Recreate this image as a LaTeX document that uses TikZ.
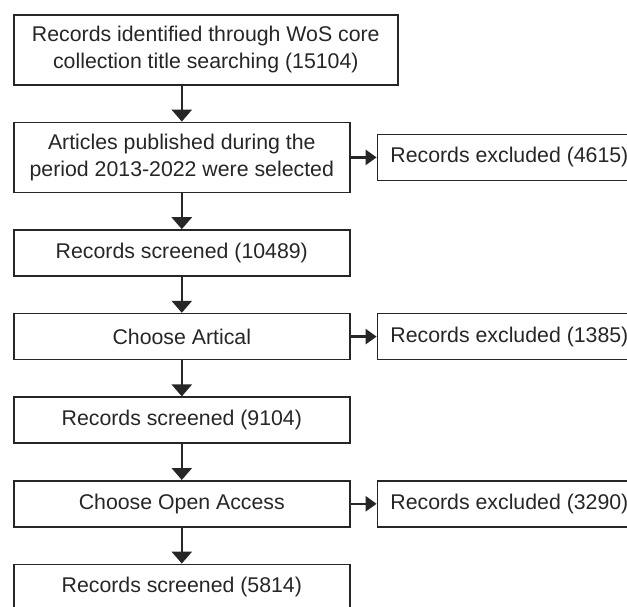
\documentclass[tikz,border=0pt]{standalone}
\usepackage{fontspec}
\setmainfont{Liberation Sans}
\usetikzlibrary{positioning,arrows.meta}

\begin{document}
\begin{tikzpicture}[
    font=\fontsize{10.65pt}{13.5pt}\selectfont,
    stage/.style={draw=black!85, line width=0.8pt, text=black!85,
        minimum width=168pt, minimum height=23pt, align=center, inner sep=0pt},
    tallstage/.style={stage, minimum height=35pt},
    excluded/.style={draw=black!85, line width=0.8pt, text=black!85,
        minimum width=132pt, minimum height=23pt, inner sep=0pt},
    down/.style={line width=1.3pt, black!85, -{Triangle[length=6pt,width=10pt]}},
    side/.style={line width=1.3pt, black!85, -{Triangle[length=5.5pt,width=7.5pt]}}
]

    \useasboundingbox (0,0) rectangle (313.5pt,-303pt);

    % Main column
    \node[tallstage, minimum width=192pt, anchor=north west] (ident) at (6.5pt,-7pt)
        {Records identified through WoS core\\collection title searching (15104)};
    \node[tallstage, anchor=north west] (period) at ([yshift=-18pt]ident.south west)
        {Articles published during the\\period 2013-2022 were selected};
    \node[stage, below=18pt of period] (screenA) {Records screened (10489)};
    \node[stage, below=18pt of screenA] (article) {Choose Artical};
    \node[stage, below=18pt of article] (screenB) {Records screened (9104)};
    \node[stage, below=18pt of screenB] (openacc) {Choose Open Access};
    \node[stage, below=18pt of openacc] (screenC) {Records screened (5814)};

    % Excluded records
    \node[excluded, right=13pt of period] (exclA) {Records excluded (4615)};
    \node[excluded, right=13pt of article] (exclB) {Records excluded (1385)};
    \node[excluded, right=13pt of openacc] (exclC) {Records excluded (3290)};

    % Arrows down
    \draw[down] (period.north |- ident.south) -- (period);
    \draw[down] (period) -- (screenA);
    \draw[down] (screenA) -- (article);
    \draw[down] (article) -- (screenB);
    \draw[down] (screenB) -- (openacc);
    \draw[down] (openacc) -- (screenC);

    % Arrows to the side
    \draw[side] (period) -- (exclA);
    \draw[side] (article) -- (exclB);
    \draw[side] (openacc) -- (exclC);

\end{tikzpicture}
\end{document}
